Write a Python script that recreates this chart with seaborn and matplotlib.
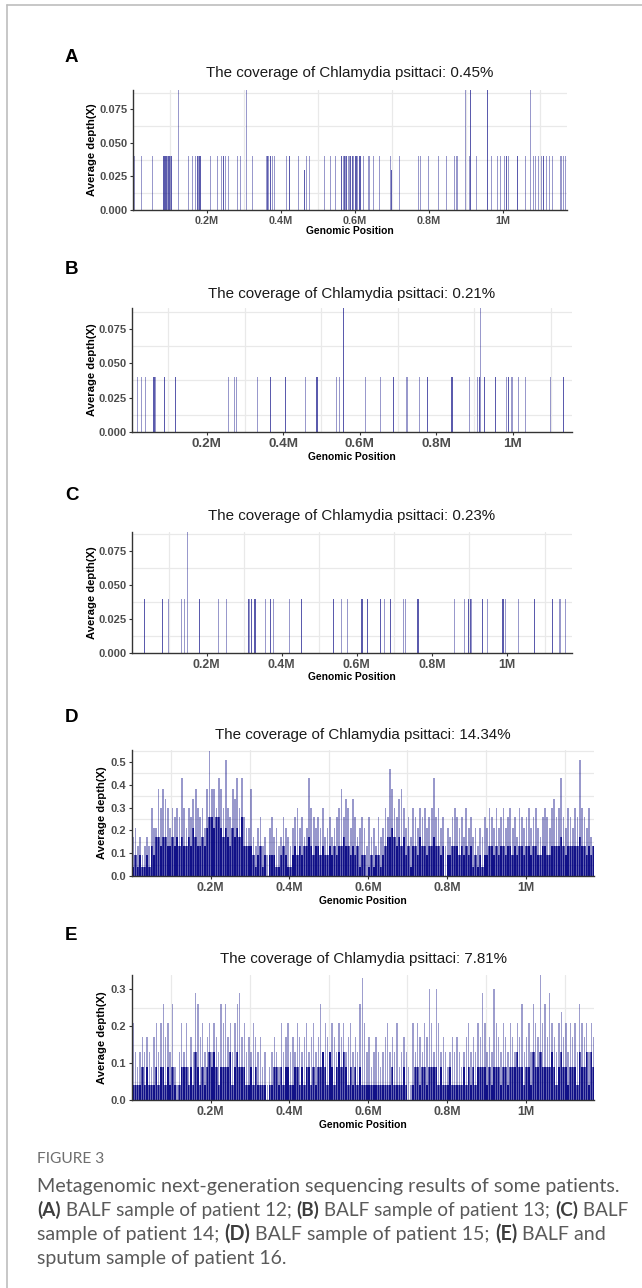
import numpy as np
import pandas as pd
import matplotlib
matplotlib.use("Agg")
import matplotlib.pyplot as plt
from matplotlib.lines import Line2D
import seaborn as sns

sns.set_theme(style="white")
plt.rcParams['font.family'] = ['Liberation Sans', 'DejaVu Sans']

W, H = 642, 1288
NAVY = "#000080"

# ---------------- data (positions in Mb, depth in X) ----------------
A_pos = [0.003, 0.025, 0.051, 0.082, 0.085, 0.088, 0.091, 0.094, 0.097, 0.100, 0.103, 0.106,
         0.123, 0.151, 0.161, 0.168, 0.174, 0.177, 0.180, 0.183, 0.208, 0.229, 0.238, 0.244,
         0.251, 0.260, 0.280, 0.289, 0.307, 0.323, 0.359, 0.362, 0.366, 0.370, 0.376, 0.382,
         0.415, 0.423, 0.447, 0.463, 0.468, 0.478, 0.517, 0.534, 0.546, 0.565, 0.569, 0.572,
         0.575, 0.579, 0.583, 0.586, 0.591, 0.595, 0.600, 0.604, 0.607, 0.611, 0.614, 0.622,
         0.636, 0.639, 0.651, 0.665, 0.695, 0.698, 0.722, 0.771, 0.776, 0.798, 0.825, 0.848,
         0.870, 0.875, 0.879, 0.897, 0.909, 0.912, 0.929, 0.959, 0.970, 0.983, 0.992, 1.005,
         1.010, 1.014, 1.039, 1.059, 1.073, 1.082, 1.089, 1.095, 1.105, 1.109, 1.118, 1.127,
         1.132, 1.154, 1.158, 1.163, 1.168]
A_depth = [0.04, 0.04, 0.04, 0.04, 0.04, 0.04, 0.04, 0.04, 0.04, 0.04, 0.04, 0.04,
           0.09, 0.04, 0.04, 0.04, 0.04, 0.04, 0.04, 0.04, 0.04, 0.04, 0.04, 0.04,
           0.04, 0.04, 0.04, 0.04, 0.09, 0.04, 0.04, 0.04, 0.04, 0.04, 0.04, 0.04,
           0.04, 0.04, 0.04, 0.03, 0.04, 0.04, 0.04, 0.04, 0.04, 0.04, 0.04, 0.04,
           0.04, 0.04, 0.04, 0.04, 0.04, 0.04, 0.04, 0.04, 0.04, 0.04, 0.04, 0.04,
           0.04, 0.04, 0.04, 0.04, 0.04, 0.03, 0.04, 0.04, 0.04, 0.04, 0.04, 0.04,
           0.04, 0.04, 0.04, 0.09, 0.04, 0.09, 0.04, 0.09, 0.04, 0.04, 0.04, 0.04,
           0.04, 0.04, 0.04, 0.04, 0.09, 0.04, 0.04, 0.04, 0.04, 0.04, 0.04, 0.04,
           0.04, 0.04, 0.04, 0.04, 0.04]
A_reads = [1, 1, 1, 2, 2, 2, 2, 1, 2, 2, 1, 2,
           1, 1, 1, 1, 2, 1, 2, 2, 1, 1, 1, 2,
           1, 1, 1, 1, 1, 1, 1, 2, 1, 2, 1, 1,
           1, 2, 1, 2, 1, 1, 1, 1, 1, 2, 1, 2,
           1, 2, 1, 2, 2, 1, 2, 2, 1, 2, 2, 1,
           1, 1, 1, 1, 1, 2, 1, 1, 1, 1, 1, 1,
           1, 1, 1, 1, 1, 2, 1, 2, 1, 1, 1, 1,
           2, 1, 2, 1, 1, 1, 1, 1, 1, 2, 1, 1,
           1, 1, 1, 1, 1]

B_pos = [0.017, 0.030, 0.041, 0.059, 0.062, 0.065, 0.091, 0.120, 0.257, 0.274, 0.279, 0.331,
         0.368, 0.408, 0.459, 0.489, 0.540, 0.547, 0.558, 0.614, 0.655, 0.687, 0.725, 0.756,
         0.777, 0.842, 0.885, 0.909, 0.913, 0.917, 0.924, 0.957, 0.983, 0.990, 0.998, 1.014,
         1.035, 1.099, 1.132]
B_depth = [0.04, 0.04, 0.04, 0.04, 0.04, 0.04, 0.04, 0.04, 0.04, 0.04, 0.04, 0.04,
           0.04, 0.04, 0.04, 0.04, 0.04, 0.04, 0.09, 0.04, 0.04, 0.04, 0.04, 0.04,
           0.04, 0.04, 0.04, 0.04, 0.04, 0.09, 0.04, 0.04, 0.04, 0.04, 0.04, 0.04,
           0.04, 0.04, 0.04]
B_reads = [1, 1, 1, 2, 2, 1, 2, 2, 1, 1, 1, 1,
           2, 2, 1, 2, 1, 1, 2, 1, 1, 2, 1, 1,
           2, 2, 1, 1, 2, 1, 2, 2, 1, 2, 1, 1,
           1, 1, 2]

C_pos = [0.035, 0.082, 0.099, 0.133, 0.142, 0.151, 0.180, 0.231, 0.253, 0.311, 0.316, 0.321,
         0.329, 0.357, 0.371, 0.379, 0.422, 0.451, 0.539, 0.558, 0.575, 0.611, 0.615, 0.628,
         0.662, 0.673, 0.691, 0.723, 0.729, 0.763, 0.862, 0.886, 0.898, 0.902, 0.905, 0.933,
         0.947, 0.987, 0.991, 0.995, 1.031, 1.074, 1.120, 1.142, 1.155]
C_depth = [0.04, 0.04, 0.04, 0.04, 0.04, 0.09, 0.04, 0.04, 0.04, 0.04, 0.04, 0.04,
           0.04, 0.04, 0.04, 0.04, 0.04, 0.04, 0.04, 0.04, 0.04, 0.04, 0.04, 0.04,
           0.04, 0.04, 0.04, 0.04, 0.04, 0.04, 0.04, 0.04, 0.04, 0.04, 0.04, 0.04,
           0.04, 0.04, 0.04, 0.04, 0.04, 0.04, 0.04, 0.04, 0.04]
C_reads = [2, 2, 1, 1, 1, 1, 2, 1, 1, 2, 1, 2,
           2, 1, 2, 1, 1, 2, 2, 1, 1, 2, 2, 2,
           2, 1, 2, 1, 1, 2, 1, 1, 2, 2, 1, 2,
           1, 2, 2, 1, 1, 2, 2, 1, 1]

# dense panels: 200 consecutive windows over the genome
WINDOWS = 200
D_window_mb = 0.00588
D_peak = [0.17, 0.21, 0.13, 0.17, 0.09, 0.13, 0.17, 0.13, 0.30, 0.21,
          0.21, 0.38, 0.30, 0.38, 0.34, 0.30, 0.21, 0.30, 0.26, 0.30,
          0.26, 0.43, 0.30, 0.21, 0.30, 0.26, 0.34, 0.38, 0.30, 0.26,
          0.30, 0.21, 0.38, 0.55, 0.38, 0.38, 0.30, 0.43, 0.38, 0.30,
          0.51, 0.30, 0.26, 0.38, 0.34, 0.43, 0.30, 0.43, 0.26, 0.21,
          0.21, 0.38, 0.17, 0.13, 0.21, 0.26, 0.13, 0.17, 0.09, 0.21,
          0.26, 0.17, 0.21, 0.13, 0.17, 0.26, 0.21, 0.17, 0.13, 0.21,
          0.26, 0.30, 0.21, 0.26, 0.17, 0.21, 0.43, 0.30, 0.26, 0.21,
          0.26, 0.21, 0.30, 0.17, 0.21, 0.26, 0.17, 0.21, 0.26, 0.30,
          0.38, 0.26, 0.34, 0.30, 0.21, 0.34, 0.26, 0.17, 0.21, 0.26,
          0.21, 0.13, 0.26, 0.17, 0.21, 0.13, 0.26, 0.17, 0.21, 0.30,
          0.26, 0.47, 0.38, 0.30, 0.26, 0.34, 0.38, 0.30, 0.21, 0.26,
          0.17, 0.30, 0.26, 0.21, 0.30, 0.26, 0.30, 0.21, 0.26, 0.30,
          0.43, 0.26, 0.30, 0.21, 0.26, 0.13, 0.21, 0.17, 0.26, 0.30,
          0.26, 0.21, 0.26, 0.17, 0.30, 0.21, 0.26, 0.17, 0.21, 0.13,
          0.21, 0.17, 0.26, 0.21, 0.30, 0.26, 0.21, 0.30, 0.21, 0.26,
          0.30, 0.21, 0.26, 0.30, 0.21, 0.26, 0.17, 0.30, 0.26, 0.21,
          0.26, 0.30, 0.21, 0.26, 0.30, 0.21, 0.17, 0.26, 0.30, 0.26,
          0.21, 0.30, 0.34, 0.26, 0.30, 0.43, 0.26, 0.21, 0.30, 0.26,
          0.21, 0.30, 0.26, 0.51, 0.30, 0.26, 0.21, 0.30, 0.17, 0.13]
D_base = [0.04, 0.09, 0.04, 0.09, 0.04, 0.04, 0.09, 0.04, 0.13, 0.09,
          0.17, 0.17, 0.13, 0.17, 0.17, 0.13, 0.13, 0.17, 0.13, 0.17,
          0.13, 0.17, 0.13, 0.13, 0.17, 0.13, 0.21, 0.17, 0.13, 0.13,
          0.17, 0.13, 0.21, 0.26, 0.26, 0.21, 0.26, 0.26, 0.21, 0.17,
          0.21, 0.17, 0.13, 0.21, 0.17, 0.21, 0.17, 0.26, 0.13, 0.13,
          0.13, 0.13, 0.09, 0.04, 0.09, 0.13, 0.04, 0.09, 0.00, 0.09,
          0.09, 0.09, 0.04, 0.04, 0.09, 0.13, 0.09, 0.04, 0.04, 0.09,
          0.13, 0.09, 0.13, 0.09, 0.13, 0.13, 0.17, 0.13, 0.09, 0.13,
          0.13, 0.09, 0.13, 0.09, 0.09, 0.13, 0.09, 0.13, 0.09, 0.13,
          0.13, 0.17, 0.13, 0.13, 0.09, 0.13, 0.09, 0.13, 0.04, 0.09,
          0.09, 0.00, 0.04, 0.09, 0.04, 0.09, 0.09, 0.04, 0.09, 0.13,
          0.17, 0.17, 0.21, 0.17, 0.13, 0.17, 0.13, 0.17, 0.09, 0.13,
          0.04, 0.13, 0.13, 0.09, 0.17, 0.13, 0.13, 0.09, 0.13, 0.13,
          0.17, 0.13, 0.13, 0.09, 0.13, 0.00, 0.09, 0.09, 0.13, 0.13,
          0.13, 0.09, 0.13, 0.09, 0.13, 0.09, 0.13, 0.04, 0.09, 0.04,
          0.09, 0.04, 0.09, 0.09, 0.13, 0.13, 0.09, 0.13, 0.09, 0.13,
          0.13, 0.09, 0.13, 0.13, 0.09, 0.13, 0.09, 0.13, 0.13, 0.09,
          0.13, 0.13, 0.09, 0.13, 0.13, 0.09, 0.09, 0.13, 0.13, 0.09,
          0.09, 0.13, 0.13, 0.13, 0.13, 0.17, 0.13, 0.09, 0.13, 0.13,
          0.13, 0.13, 0.13, 0.17, 0.13, 0.13, 0.09, 0.13, 0.09, 0.13]

E_window_mb = 0.00588
E_peak = [0.21, 0.13, 0.09, 0.13, 0.17, 0.13, 0.17, 0.13, 0.09, 0.17,
          0.21, 0.13, 0.21, 0.26, 0.17, 0.21, 0.13, 0.26, 0.09, 0.04,
          0.13, 0.21, 0.13, 0.21, 0.09, 0.17, 0.13, 0.29, 0.26, 0.17,
          0.21, 0.13, 0.17, 0.21, 0.13, 0.21, 0.17, 0.13, 0.26, 0.21,
          0.26, 0.17, 0.21, 0.13, 0.21, 0.26, 0.29, 0.17, 0.21, 0.13,
          0.17, 0.13, 0.21, 0.17, 0.13, 0.17, 0.09, 0.13, 0.04, 0.09,
          0.13, 0.17, 0.13, 0.09, 0.21, 0.13, 0.17, 0.21, 0.13, 0.17,
          0.13, 0.21, 0.17, 0.13, 0.17, 0.21, 0.13, 0.17, 0.21, 0.13,
          0.17, 0.26, 0.13, 0.21, 0.17, 0.13, 0.21, 0.17, 0.13, 0.21,
          0.17, 0.21, 0.13, 0.17, 0.21, 0.13, 0.17, 0.13, 0.26, 0.33,
          0.21, 0.13, 0.17, 0.09, 0.13, 0.17, 0.13, 0.09, 0.13, 0.17,
          0.21, 0.13, 0.17, 0.13, 0.21, 0.09, 0.13, 0.17, 0.13, 0.09,
          0.04, 0.21, 0.13, 0.21, 0.17, 0.13, 0.21, 0.17, 0.30, 0.21,
          0.13, 0.30, 0.21, 0.13, 0.17, 0.13, 0.09, 0.13, 0.17, 0.13,
          0.17, 0.13, 0.09, 0.13, 0.17, 0.21, 0.13, 0.17, 0.13, 0.21,
          0.17, 0.29, 0.21, 0.13, 0.17, 0.13, 0.30, 0.21, 0.17, 0.13,
          0.21, 0.17, 0.13, 0.21, 0.17, 0.13, 0.21, 0.17, 0.26, 0.13,
          0.17, 0.21, 0.13, 0.26, 0.21, 0.17, 0.34, 0.21, 0.26, 0.17,
          0.29, 0.21, 0.17, 0.13, 0.21, 0.24, 0.17, 0.21, 0.13, 0.21,
          0.17, 0.21, 0.13, 0.26, 0.21, 0.17, 0.21, 0.13, 0.21, 0.17]
E_base = [0.04, 0.04, 0.04, 0.04, 0.09, 0.04, 0.09, 0.04, 0.04, 0.04,
          0.09, 0.04, 0.09, 0.09, 0.04, 0.09, 0.04, 0.09, 0.04, 0.00,
          0.04, 0.09, 0.09, 0.09, 0.04, 0.09, 0.04, 0.13, 0.09, 0.04,
          0.09, 0.04, 0.09, 0.13, 0.09, 0.13, 0.09, 0.04, 0.09, 0.09,
          0.09, 0.09, 0.13, 0.04, 0.09, 0.13, 0.09, 0.09, 0.09, 0.04,
          0.04, 0.09, 0.04, 0.09, 0.04, 0.04, 0.04, 0.04, 0.00, 0.04,
          0.04, 0.09, 0.09, 0.04, 0.09, 0.04, 0.09, 0.09, 0.04, 0.04,
          0.09, 0.09, 0.04, 0.09, 0.04, 0.09, 0.09, 0.04, 0.09, 0.04,
          0.09, 0.09, 0.13, 0.09, 0.04, 0.13, 0.09, 0.04, 0.09, 0.13,
          0.09, 0.13, 0.09, 0.04, 0.09, 0.04, 0.09, 0.04, 0.09, 0.04,
          0.04, 0.04, 0.04, 0.04, 0.04, 0.04, 0.04, 0.04, 0.04, 0.04,
          0.04, 0.04, 0.09, 0.04, 0.04, 0.04, 0.04, 0.09, 0.04, 0.00,
          0.00, 0.04, 0.09, 0.09, 0.04, 0.09, 0.09, 0.04, 0.09, 0.09,
          0.09, 0.09, 0.04, 0.09, 0.04, 0.04, 0.04, 0.09, 0.04, 0.04,
          0.04, 0.04, 0.04, 0.09, 0.04, 0.09, 0.04, 0.09, 0.04, 0.09,
          0.09, 0.09, 0.09, 0.04, 0.09, 0.04, 0.09, 0.09, 0.09, 0.04,
          0.09, 0.09, 0.04, 0.09, 0.09, 0.09, 0.13, 0.09, 0.09, 0.04,
          0.09, 0.09, 0.04, 0.13, 0.09, 0.09, 0.13, 0.09, 0.09, 0.09,
          0.09, 0.13, 0.09, 0.04, 0.09, 0.13, 0.09, 0.09, 0.04, 0.09,
          0.09, 0.09, 0.04, 0.13, 0.09, 0.09, 0.13, 0.04, 0.13, 0.09]

TITLES = ["The coverage of Chlamydia psittaci: 0.45%",
          "The coverage of Chlamydia psittaci: 0.21%",
          "The coverage of Chlamydia psittaci: 0.23%",
          "The coverage of Chlamydia psittaci: 14.34%",
          "The coverage of Chlamydia psittaci: 7.81%"]
LETTERS = ["A", "B", "C", "D", "E"]
X_TICKS = [0.2, 0.4, 0.6, 0.8, 1.0]
X_TICK_LABELS = ["0.2M", "0.4M", "0.6M", "0.8M", "1M"]
Y_TICKS_SMALL = [0.0, 0.025, 0.05, 0.075]
Y_LABELS_SMALL = ["0.000", "0.025", "0.050", "0.075"]
Y_TICKS_D = [0.0, 0.1, 0.2, 0.3, 0.4, 0.5]
Y_LABELS_D = ["0.0", "0.1", "0.2", "0.3", "0.4", "0.5"]
Y_TICKS_E = [0.0, 0.1, 0.2, 0.3]
Y_LABELS_E = ["0.0", "0.1", "0.2", "0.3"]

CAPTION_HEAD = "FIGURE 3"
CAPTION_LINES = [
    [("Metagenomic next-generation sequencing results of some patients.", False)],
    [("(A)", True), (" BALF sample of patient 12; ", False), ("(B)", True),
     (" BALF sample of patient 13; ", False), ("(C)", True), (" BALF", False)],
    [("sample of patient 14; ", False), ("(D)", True), (" BALF sample of patient 15; ", False),
     ("(E)", True), (" BALF and", False)],
    [("sputum sample of patient 16.", False)],
]

# ---------------- layout (pixels) ----------------
# box = (left, top, right, bottom)
PANELS = [
    dict(box=(133, 90, 567, 210), xlim=(0.0, 1.173), ylim=(0, 0.0894), xfs=7.8,
         title_y=73, xlab_y=231, ylab_x=92, letter_y=57),
    dict(box=(132, 308, 572, 432), xlim=(0.005, 1.155), ylim=(0, 0.0901), xfs=9.7,
         title_y=294, xlab_y=457, ylab_x=92, letter_y=269),
    dict(box=(132, 532, 572, 653), xlim=(0.0016, 1.173), ylim=(0, 0.0892), xfs=8.9,
         title_y=516, xlab_y=677, ylab_x=92, letter_y=495),
    dict(box=(132, 750, 594, 876), xlim=(0.0, 1.174), ylim=(0, 0.553), xfs=8.9,
         title_y=735, xlab_y=901, ylab_x=102, letter_y=717),
    dict(box=(132, 975, 594, 1100), xlim=(0.0, 1.174), ylim=(0, 0.339), xfs=8.9,
         title_y=959, xlab_y=1125, ylab_x=102, letter_y=936),
]

fig = plt.figure(figsize=(W / 100, H / 100), dpi=100)
fig.patch.set_facecolor("white")


def add_axes_px(box):
    l, t, r, b = box
    return fig.add_axes([l / W, 1 - b / H, (r - l) / W, (b - t) / H])


def sparse_bars(ax, pos, depth, reads, binw, xr):
    df = pd.DataFrame({"pos": pos, "depth": depth, "reads": reads})
    for k in (1, 2):
        sub = df[df["reads"] >= k]
        sns.histplot(data=sub, x="pos", weights="depth", binwidth=binw, binrange=xr,
                     color=NAVY, alpha=0.4, edgecolor="none", linewidth=0,
                     shrink=1.0, ax=ax)


def dense_bars(ax, peak, base, window, peak_alpha, peak_shrink):
    centers = (np.arange(WINDOWS) + 0.5) * window
    df = pd.DataFrame({"pos": centers, "peak": peak, "base": base})
    rng = (0, WINDOWS * window)
    sns.histplot(data=df, x="pos", weights="peak", binwidth=window, binrange=rng,
                 color=NAVY, alpha=peak_alpha, edgecolor="none", linewidth=0,
                 shrink=peak_shrink, ax=ax)
    sns.histplot(data=df, x="pos", weights="base", binwidth=window, binrange=rng,
                 color=NAVY, alpha=0.62, edgecolor="none", linewidth=0, shrink=1.0, ax=ax)
    sns.histplot(data=df, x="pos", weights="base", binwidth=window, binrange=rng,
                 color=NAVY, alpha=0.7, edgecolor="none", linewidth=0, shrink=0.6, ax=ax)


def style_axes(ax, cfg, yticks, ylabels, yminor):
    l, t, r, b = cfg["box"]
    wpx, hpx = r - l, b - t
    ax.set_facecolor("white")
    ax.set_xlim(*cfg["xlim"])
    ax.set_ylim(*cfg["ylim"])
    ax.set_xticks(X_TICKS)
    ax.set_xticklabels(X_TICK_LABELS)
    ax.set_xticks([0.1, 0.3, 0.5, 0.7, 0.9, 1.1], minor=True)
    ax.set_yticks(yticks)
    ax.set_yticklabels(ylabels)
    ax.set_yticks(yminor, minor=True)
    ax.grid(False, which="major")
    ax.grid(True, which="minor", color="#e9e9e9", linewidth=0.9)
    ax.set_axisbelow(True)
    for s in ("top", "right"):
        ax.spines[s].set_visible(False)
    for s in ("left", "bottom"):
        ax.spines[s].set_visible(True)
        ax.spines[s].set_color("#333333")
        ax.spines[s].set_linewidth(1.0)
    ax.tick_params(which="minor", length=0)
    ax.tick_params(which="major", length=2.5, width=0.8, color="#333333", direction="out",
                   pad=1.5, bottom=True, left=True)
    for lab in ax.get_xticklabels():
        lab.set_fontsize(cfg["xfs"])
        lab.set_fontweight("bold")
        lab.set_color("#4d4d4d")
    for lab in ax.get_yticklabels():
        lab.set_fontsize(8.0)
        lab.set_fontweight("bold")
        lab.set_color("#4d4d4d")
    ax.set_xlabel("Genomic Position", fontsize=7.4, fontweight="bold", color="black",
                  va="center")
    ax.xaxis.set_label_coords(0.5, -(cfg["xlab_y"] - b) / hpx)
    ax.set_ylabel("Average depth(X)", fontsize=8.1, fontweight="bold", color="black",
                  va="center")
    ax.yaxis.set_label_coords(-(l - cfg["ylab_x"]) / wpx, 0.5)
    ax.set_title(TITLES[i], fontsize=10.9, color="#1a1a1a", y=(b - cfg["title_y"]) / hpx,
                 pad=0, va="center")
    fig.text(65 / W, 1 - cfg["letter_y"] / H, LETTERS[i], fontsize=13.5, fontweight="bold",
             ha="left", va="center", color="black")


SPARSE = [(A_pos, A_depth, A_reads), (B_pos, B_depth, B_reads), (C_pos, C_depth, C_reads)]
for i, cfg in enumerate(PANELS):
    ax = add_axes_px(cfg["box"])
    if i < 3:
        pos, depth, reads = SPARSE[i]
        sparse_bars(ax, pos, depth, reads, 0.0028, (0.0, 1.176))
        style_axes(ax, cfg, Y_TICKS_SMALL, Y_LABELS_SMALL, [0.0125, 0.0375, 0.0625, 0.0875])
    elif i == 3:
        dense_bars(ax, D_peak, D_base, D_window_mb, 0.4, 0.75)
        style_axes(ax, cfg, Y_TICKS_D, Y_LABELS_D, [0.05, 0.15, 0.25, 0.35, 0.45, 0.55])
    else:
        dense_bars(ax, E_peak, E_base, E_window_mb, 0.38, 0.6)
        style_axes(ax, cfg, Y_TICKS_E, Y_LABELS_E, [0.05, 0.15, 0.25])

# frame lines (top and left border of the figure box)
fig.add_artist(Line2D([7 / W, 1.0], [1 - 5 / H, 1 - 5 / H], color="#bdbdbd", linewidth=1.2))
fig.add_artist(Line2D([7 / W, 7 / W], [1 - 5 / H, 0.0], color="#bdbdbd", linewidth=1.2))

# ---------------- caption ----------------
CAP_FONT = ["Lato", "DejaVu Sans"]
fig.text(37 / W, 1 - 1163 / H, CAPTION_HEAD, fontsize=11.2, color="#6e6e6e",
         family=CAP_FONT, ha="left", va="baseline")

fig.canvas.draw()
renderer = fig.canvas.get_renderer()


def advance(s, props):
    t1 = fig.text(0, 0, s + "|", **props)
    w1 = t1.get_window_extent(renderer).width
    t1.set_text("|")
    w2 = t1.get_window_extent(renderer).width
    t1.remove()
    return w1 - w2


def cap_props(bold, size):
    return dict(fontsize=size, family=CAP_FONT,
                fontweight="bold" if bold else "normal",
                color="#3d3d3d" if bold else "#5a5a5a", ha="left", va="baseline")


# right ends of the caption lines in the reference (pixels)
line_right = [621, 628, 606, 288]
baselines = [1192, 1216, 1240, 1264]
base_size = 14.0
for line, yb, xr in zip(CAPTION_LINES, baselines, line_right):
    natural = sum(advance(txt, cap_props(bold, base_size)) for txt, bold in line)
    size = min(base_size * (xr - 37) / natural, 14.6)
    x = 37.0
    for txt, bold in line:
        props = cap_props(bold, size)
        fig.text(x / W, 1 - yb / H, txt, **props)
        x += advance(txt, props)

fig.savefig("out.png", dpi=100, facecolor="white")
